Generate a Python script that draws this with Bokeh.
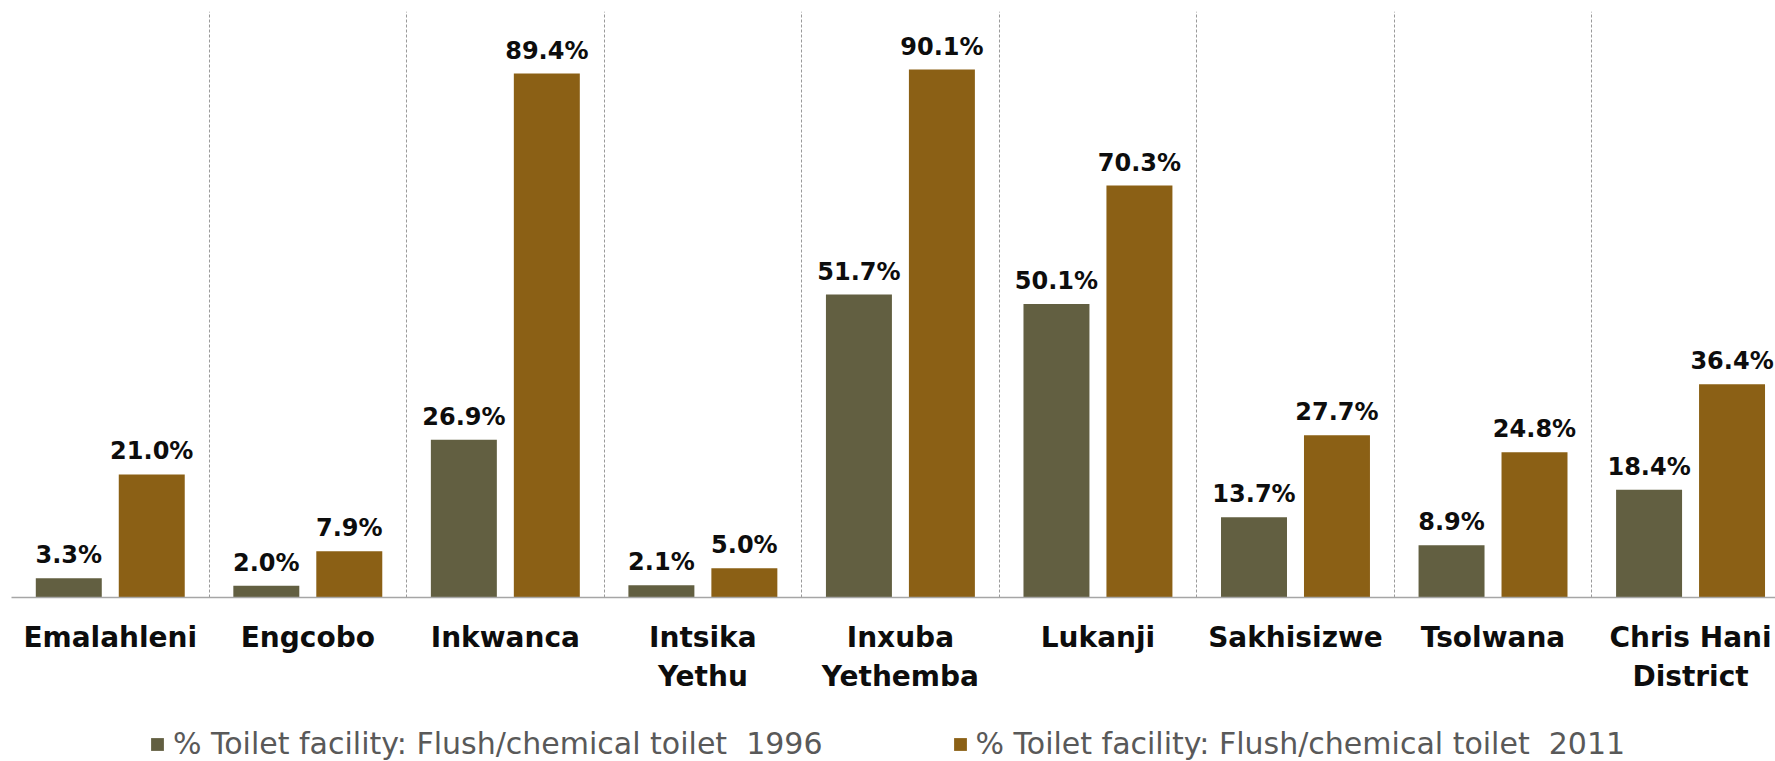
from bokeh.plotting import figure
from bokeh.layouts import column
from bokeh.models import Range1d, FixedTicker, CustomJSTickFormatter, ColumnDataSource, Legend, LegendItem
from bokeh.core.properties import value
from bokeh.embed import file_html
from bokeh.resources import INLINE

categories = ["Emalahleni", "Engcobo", "Inkwanca", "Intsika\nYethu", "Inxuba\nYethemba",
              "Lukanji", "Sakhisizwe", "Tsolwana", "Chris Hani\nDistrict"]
values_1996 = [3.3, 2.0, 26.9, 2.1, 51.7, 50.1, 13.7, 8.9, 18.4]
values_2011 = [21.0, 7.9, 89.4, 5.0, 90.1, 70.3, 27.7, 24.8, 36.4]
series_names = ["% Toilet facility: Flush/chemical toilet  1996",
                "% Toilet facility: Flush/chemical toilet  2011"]
colors = ["#625F41", "#8B6015"]

n = len(categories)
centers = [i + 0.5 for i in range(n)]
dodge = 0.21
bar_w = 0.334

src1 = ColumnDataSource(dict(x=[c - dodge for c in centers], top=values_1996,
                             lab=["%.1f%%" % v for v in values_1996]))
src2 = ColumnDataSource(dict(x=[c + dodge for c in centers], top=values_2011,
                             lab=["%.1f%%" % v for v in values_2011]))

p = figure(frame_width=1764, frame_height=586, output_backend="svg", toolbar_location=None,
           x_range=Range1d(0, 8.93), y_range=Range1d(0, 100),
           min_border_left=11, min_border_top=11, min_border_right=0, min_border_bottom=110)
p.outline_line_color = None
p.yaxis.visible = False
p.ygrid.grid_line_color = None

p.xgrid.ticker = FixedTicker(ticks=list(range(n + 1)))
p.xgrid.grid_line_color = "#9A9A9A"
p.xgrid.grid_line_dash = "3 2"
p.xgrid.grid_line_width = 1

ax = p.xaxis[0]
ax.ticker = FixedTicker(ticks=centers)
ax.formatter = CustomJSTickFormatter(args=dict(labels=categories),
                                     code="return labels[Math.floor(tick)];")
ax.axis_line_color = "#A6A6A6"
ax.axis_line_width = 1.5
ax.major_tick_line_color = None
ax.minor_tick_line_color = None
ax.major_label_standoff = 17
ax.major_label_text_font = "DejaVu Sans"
ax.major_label_text_font_style = "bold"
ax.major_label_text_font_size = "28px"
ax.major_label_text_color = "#0D0D0D"

p.vbar(x="x", top="top", width=bar_w, source=src1, fill_color=colors[0], line_color=None)
p.vbar(x="x", top="top", width=bar_w, source=src2, fill_color=colors[1], line_color=None)

for s in (src1, src2):
    p.text(x="x", y="top", text="lab", source=s, text_align="center", text_baseline="alphabetic",
           y_offset=-23, text_font=value("DejaVu Sans"), text_font_style="bold",
           text_font_size="24px", text_color="#0D0D0D")

# legend strip below the chart: its bars lie below this strip's visible y range,
# so only the legend shows
p2 = figure(width=1775, height=54, output_backend="svg", toolbar_location=None,
            x_range=Range1d(0, 8.93), y_range=Range1d(200, 201),
            min_border_left=0, min_border_right=0, min_border_top=0, min_border_bottom=0)
p2.outline_line_color = None
p2.axis.visible = False
p2.grid.grid_line_color = None
e1 = p2.vbar(x="x", top="top", width=bar_w, source=src1, fill_color=colors[0], line_color=None)
e2 = p2.vbar(x="x", top="top", width=bar_w, source=src2, fill_color=colors[1], line_color=None)

legend = Legend(items=[LegendItem(label=series_names[0], renderers=[e1]),
                       LegendItem(label=series_names[1], renderers=[e2])],
                orientation="horizontal", location=(138, 0))
legend.label_text_font = "DejaVu Sans"
legend.label_text_font_size = "30px"
legend.label_text_color = "#595959"
legend.label_height = 30
legend.glyph_width = 16
legend.glyph_height = 16
legend.label_standoff = 8
legend.spacing = 129
legend.padding = 0
legend.margin = 0
legend.border_line_color = None
legend.background_fill_alpha = 0
p2.add_layout(legend, "center")

layout = column(p, p2, spacing=0)
open("out.html", "w").write(file_html(layout, INLINE))
